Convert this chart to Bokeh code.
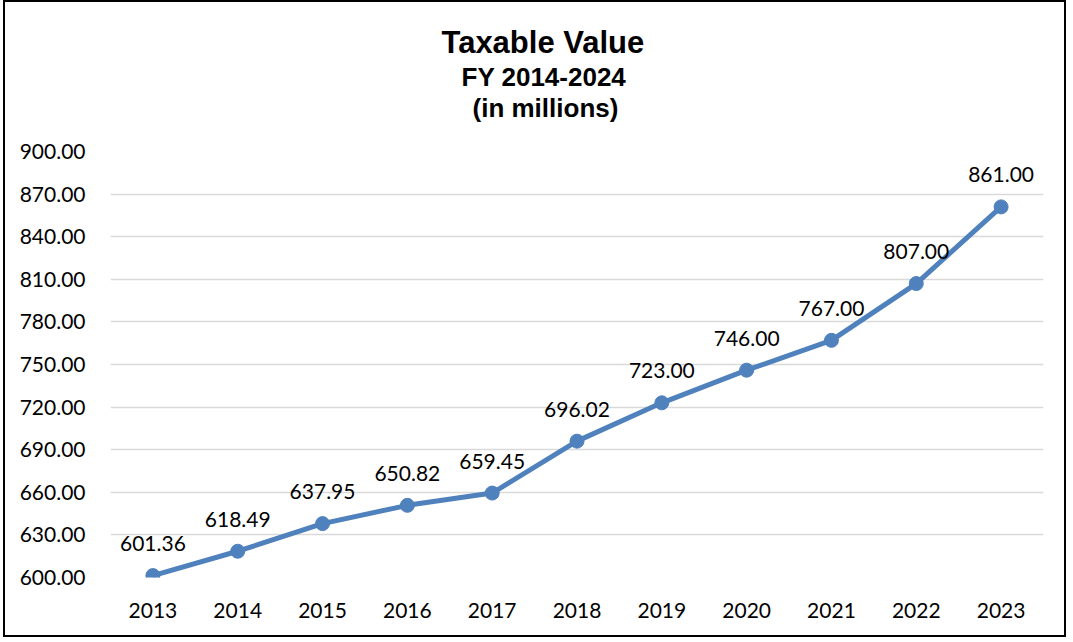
from bokeh.plotting import figure
from bokeh.models import FactorRange, Range1d, FixedTicker, NumeralTickFormatter, ColumnDataSource, Title
from bokeh.embed import file_html
from bokeh.resources import INLINE
from bokeh.core.properties import value

years = ["2013", "2014", "2015", "2016", "2017", "2018", "2019", "2020", "2021", "2022", "2023"]
values = [601.36, 618.49, 637.95, 650.82, 659.45, 696.02, 723.00, 746.00, 767.00, 807.00, 861.00]
value_labels = ["601.36", "618.49", "637.95", "650.82", "659.45", "696.02", "723.00", "746.00", "767.00", "807.00", "861.00"]
y_ticks = [600, 630, 660, 690, 720, 750, 780, 810, 840, 870, 900]
title_lines = ["Taxable Value", "FY 2014-2024", "(in millions)"]

LINE_COLOR = "#4F81BD"
TICK_FONT = "Lato"

p = figure(
    x_range=FactorRange(factors=years),
    y_range=Range1d(600, 900),
    width=1063, height=637,
    output_backend="svg", toolbar_location=None,
    min_border_left=105, min_border_right=25,
    min_border_top=149, min_border_bottom=62,
)
p.styles = {"border": "2px solid black", "margin-left": "3px"}
p.outline_line_color = None
p.background_fill_color = "white"
p.border_fill_color = "white"

p.xgrid.grid_line_color = None
p.ygrid.grid_line_color = "#D9D9D9"
p.ygrid.grid_line_width = 1.5

p.yaxis.ticker = FixedTicker(ticks=y_ticks)
p.yaxis.formatter = NumeralTickFormatter(format="0.00")
for ax in (p.xaxis[0], p.yaxis[0]):
    ax.axis_line_color = None
    ax.major_tick_line_color = None
    ax.minor_tick_line_color = None
    ax.major_label_text_font = TICK_FONT
    ax.major_label_text_font_size = "21px"
    ax.major_label_text_color = "#000000"
p.yaxis.major_label_standoff = 19
p.xaxis.major_label_standoff = 19

src = ColumnDataSource(dict(x=years, y=values, lbl=value_labels))
p.line("x", "y", source=src, line_color=LINE_COLOR, line_width=5)
p.scatter("x", "y", source=src, size=14, fill_color=LINE_COLOR, line_color=LINE_COLOR)
p.text("x", "y", text="lbl", source=src, text_align="center", text_baseline="middle",
       y_offset=-32, text_font=value(TICK_FONT), text_font_size="21px", text_color="#000000")

# Spacer between the frame and the title block
p.add_layout(Title(text=" ", standoff=3, text_font_size="21px"), "above")
# Title lines stacked above the frame (first added is closest to the frame)
title_specs = [(title_lines[2], "26px", 2, 362), (title_lines[1], "26px", -5, 351), (title_lines[0], "31px", 6, 331)]
for txt, fs, so, off in title_specs:
    p.add_layout(Title(text=txt, align="left", offset=off, standoff=so,
                       text_font="Liberation Sans", text_font_style="bold",
                       text_font_size=fs, text_color="#000000"), "above")

open("out.html", "w").write(file_html(p, INLINE))
